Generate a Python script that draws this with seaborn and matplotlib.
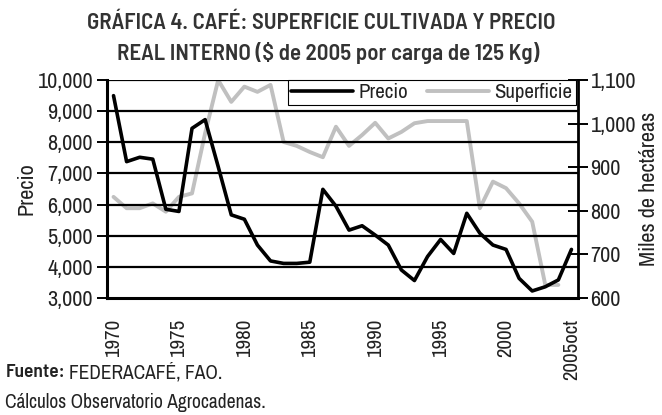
import numpy as np
import pandas as pd
import matplotlib
matplotlib.use("Agg")
import matplotlib.pyplot as plt
import seaborn as sns

# data
years = list(range(1970, 2006))
year_labels = [str(y) if y % 5 == 0 else "" for y in years]
year_labels[-1] = "2005oct"

precio = [9500, 7380, 7520, 7460, 5850, 5780, 8450, 8730, 7220, 5670, 5530,
          4700, 4190, 4110, 4110, 4150, 6490, 5950, 5180, 5320, 5020, 4700,
          3900, 3560, 4330, 4880, 4430, 5720, 5080, 4700, 4560, 3630, 3225,
          3360, 3580, 4560]

superficie = [832, 806, 806, 817, 798, 832, 840, 978, 1100, 1050, 1085, 1073,
              1089, 958, 949, 935, 923, 993, 949, 974, 1002, 966, 981, 1001,
              1006, 1006, 1006, 1006, 806, 867, 852, 817, 775, 630, 630, np.nan]

df = pd.DataFrame({"year": years, "precio": precio, "superficie": superficie})
df["pos"] = np.arange(len(df))

sns.set_theme(style="white")
plt.rcParams["font.family"] = ["Archivo Narrow", "Liberation Sans", "DejaVu Sans"]
bold_fam = ["Barlow Semi Condensed", "Liberation Sans", "DejaVu Sans"]
txt = "#222222"

fig = plt.figure(figsize=(6.62, 4.15), dpi=100)
ax = fig.add_axes([0.1616, 0.282, 0.7115, 0.525])
ax2 = ax.twinx()

# grid on left axis values
for v in range(4000, 10001, 1000):
    ax.axhline(v, color="black", lw=1.6, zorder=0)

sns.lineplot(data=df, x="pos", y="superficie", ax=ax2, color="#c0c0c0",
             lw=2.8, label="Superficie", legend=False)
sns.lineplot(data=df, x="pos", y="precio", ax=ax, color="black",
             lw=2.6, label="Precio", legend=False)

ax.set_zorder(ax2.get_zorder() + 1)
ax.patch.set_visible(False)

ax.set_xlim(-0.5, len(years) - 0.5)
ax.set_ylim(3000, 10000)
ax2.set_ylim(600, 1100)

ax.set_yticks(range(3000, 10001, 1000))
ax.set_yticklabels([f"{v:,}" for v in range(3000, 10001, 1000)])
ax2.set_yticks(range(600, 1101, 100))
ax2.set_yticklabels([f"{v:,}" for v in range(600, 1101, 100)])

ax.set_xticks(df["pos"])
ax.set_xticklabels(year_labels, rotation=90, va="top", ha="center")
ax.set_xticks(np.arange(-0.5, len(years)), minor=True)
ax.tick_params(axis="x", which="major", length=0, pad=15, labelsize=15, colors=txt)
ax.tick_params(axis="x", which="minor", length=6, width=1.4, direction="out", color="black")
ax.tick_params(axis="y", length=7, width=1.4, direction="out", labelsize=16,
               colors=txt, color="black", pad=3)
ax2.tick_params(axis="y", length=14, width=1.4, direction="inout", labelsize=16,
                colors=txt, color="black", pad=2)

ax.set_xlabel("")
ax.set_ylabel("Precio", fontsize=16, color=txt, labelpad=1)
ax2.set_ylabel("Miles de hectáreas", fontsize=16, color=txt, labelpad=2)

for a in (ax, ax2):
    for s in a.spines.values():
        s.set_visible(False)
for a, side, w in ((ax, "left", 2.2), (ax, "bottom", 2.2), (ax2, "right", 2.0)):
    a.spines[side].set_visible(True)
    a.spines[side].set_linewidth(w)
    a.spines[side].set_color("black")

h1, l1 = ax.get_legend_handles_labels()
h2, l2 = ax2.get_legend_handles_labels()
leg = ax.legend(h1 + h2, l1 + l2, loc="upper right", ncol=2, frameon=True,
                fontsize=15, bbox_to_anchor=(0.995, 1.0), borderaxespad=0,
                fancybox=False, handlelength=3.0, columnspacing=0.9,
                handletextpad=0.25, borderpad=0.15)
leg.get_frame().set_edgecolor("black")
leg.get_frame().set_linewidth(0.8)
leg.get_frame().set_facecolor("white")
leg.get_frame().set_alpha(1)
for t in leg.get_texts():
    t.set_color(txt)

fig.text(0.485, 0.945, "GRÁFICA 4. CAFÉ: SUPERFICIE CULTIVADA Y PRECIO",
         ha="center", va="center", fontsize=16.5, fontweight=600,
         family=bold_fam, color="#333333")
fig.text(0.495, 0.872, "REAL INTERNO ($ de 2005 por carga de 125 Kg)",
         ha="center", va="center", fontsize=16.5, fontweight=600,
         family=bold_fam, color="#333333")

# footer: bold "Fuente:" followed by the plain source text
fuente = fig.text(0.008, 0.103, "Fuente:", ha="left", va="center", fontsize=14,
                  fontweight=600, family=bold_fam, color=txt)
fig.canvas.draw()
bb = fuente.get_window_extent().transformed(fig.transFigure.inverted())
fig.text(bb.x1 + 0.006, 0.103, "FEDERACAFÉ, FAO.", ha="left", va="center",
         fontsize=14, color=txt)
fig.text(0.008, 0.03, "Cálculos Observatorio Agrocadenas.", ha="left", va="center",
         fontsize=14, color=txt)

fig.savefig("out.png", dpi=100)
